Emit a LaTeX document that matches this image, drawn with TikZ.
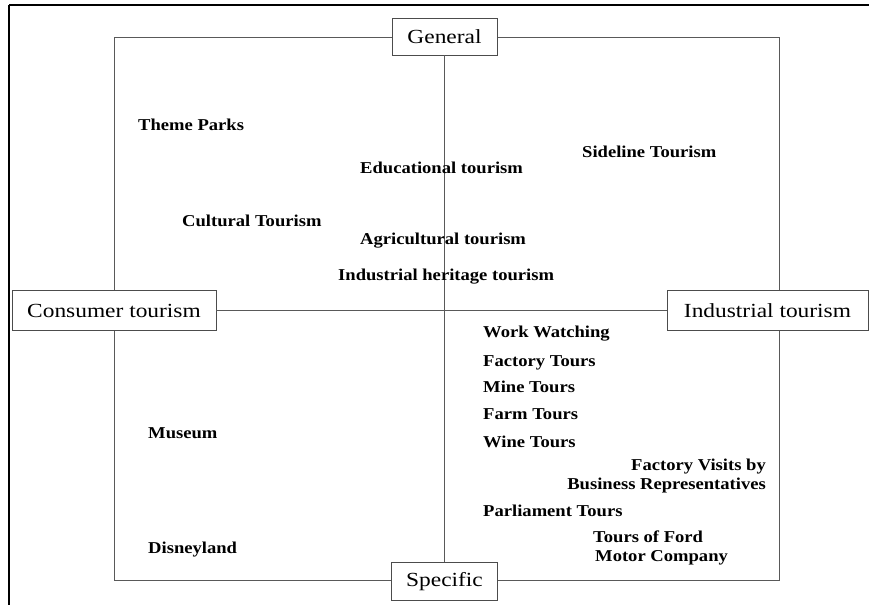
\documentclass[tikz,border=0pt]{standalone}
\usepackage{fontspec}
\setmainfont{Liberation Serif}
\newfontfamily\boxfont{Liberation Serif}[FakeStretch=1.17]
\newfontfamily\itemfont{Liberation Serif}[FakeStretch=1.12]
\usetikzlibrary{positioning}

\begin{document}
\begin{tikzpicture}[x=1pt,y=-1pt]
	\useasboundingbox (0,0) rectangle (869,605);
	% outer frame
	\draw[line width=2.4pt,black] (9,5) -- (869,5);
	\draw[line width=2.4pt,black] (9,5) -- (9,605);

	% quadrant frame
	\coordinate (tl) at (114,37);
	\coordinate (br) at (779,580);
	\draw[line width=1pt,black!65] (tl) rectangle (br);

	\begin{scope}[every node/.style={rectangle,draw=black!70,line width=0.9pt,fill=white,font=\boxfont\fontsize{20}{24}\selectfont,inner sep=0pt}]
		\node[minimum width=105pt,minimum height=37pt] (General) at (444.5,36.5) {General};
		\node[minimum width=106pt,minimum height=38pt] (Specific) at (444.5,581.5) {Specific};
		\node[minimum width=204pt,minimum height=40pt] (Consumer) at (114,310.5) {Consumer tourism};
		\node[minimum width=201pt,minimum height=40pt] (Industrial) at (767.5,310.5) {Industrial tourism};
	\end{scope}

	\begin{scope}
	\draw[line width=1pt,black!65] (General) -- (Specific);
	\draw[line width=1pt,black!65] (Consumer) -- (Industrial);
	\end{scope}

	\begin{scope}[every node/.style={inner sep=0pt,anchor=base west,font=\itemfont\bfseries\fontsize{16.6}{19}\selectfont}]
		\node (theme) at (138,130) {Theme Parks};
		\node (edu) at (360,173.5) {Educational tourism};
		\node (sideline) at (582,157.5) {Sideline Tourism};
		\node (cultural) at (182,226) {Cultural Tourism};
		\node (agri) at (360,244.5) {Agricultural tourism};
		\node (heritage) at (338,280.5) {Industrial heritage tourism};
		\node (work) at (483,337.5) {Work Watching};
		\node (factory) at (483,366.5) {Factory Tours};
		\node (mine) at (483,392.5) {Mine Tours};
		\node (farm) at (483,419.5) {Farm Tours};
		\node (wine) at (483,447.5) {Wine Tours};
		\node[anchor=base east] (visits1) at (766,470.5) {Factory Visits by};
		\node[anchor=base east] (visits2) at (766,489.5) {Business Representatives};
		\node (parliament) at (483,516.5) {Parliament Tours};
		\node (ford1) at (593,542.5) {Tours of Ford};
		\node (ford2) at (595,561.5) {Motor Company};
		\node (museum) at (148,438) {Museum};
		\node (disney) at (148,553) {Disneyland};
	\end{scope}
\end{tikzpicture}
\end{document}
